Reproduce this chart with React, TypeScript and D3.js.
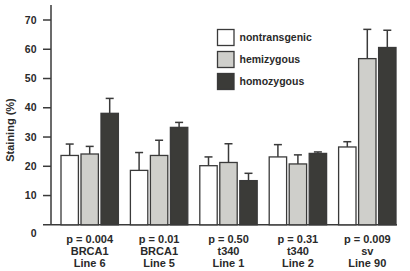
import React from "react";
import * as d3 from "d3";

const categories = ["BRCA1|Line 6", "BRCA1|Line 5", "t340|Line 1", "t340|Line 2", "sv|Line 90"];
const pValues = ["p = 0.004", "p = 0.01", "p = 0.50", "p = 0.31", "p = 0.009"];
const seriesNames = ["nontransgenic", "hemizygous", "homozygous"];
const nontransgenic = [23.7, 18.6, 20.2, 23.2, 26.6];
const nontransgenicErr = [27.6, 24.7, 23.2, 27.4, 28.4];
const hemizygous = [24.2, 23.7, 21.3, 20.8, 56.8];
const hemizygousErr = [26.8, 28.9, 27.7, 23.9, 66.8];
const homozygous = [38.1, 33.3, 15.1, 24.4, 60.6];
const homozygousErr = [43.2, 35.0, 17.6, 24.9, 66.5];
const yTicks = [10, 20, 30, 40, 50, 60, 70];

const colors = ["#ffffff", "#cfcfcb", "#3b3b38"];
const stroke = "#3a3a3a";
const font = "'Liberation Sans', Arial, Helvetica, sans-serif";

export default function App() {
  const W = 410, H = 271;
  const axisX = 51, baseY = 224.8;
  const y = d3.scaleLinear().domain([0, 70]).range([baseY, 20]);
  const x0 = d3.scaleBand<string>().domain(categories).range([61, 396]).paddingInner(0.173).paddingOuter(0);
  const x1 = d3.scaleBand<string>().domain(seriesNames).range([0, x0.bandwidth()]).paddingInner(0.13).paddingOuter(0);
  const vals = [nontransgenic, hemizygous, homozygous];
  const errs = [nontransgenicErr, hemizygousErr, homozygousErr];

  return (
    <svg width={W} height={H} style={{ position: "absolute", left: 0, top: 0 }} fontFamily={font} fontWeight="bold">
      <rect width={W} height={H} fill="#fff" />
      {/* y axis */}
      <line x1={axisX} x2={axisX} y1={5} y2={baseY} stroke={stroke} strokeWidth={1.5} />
      <line x1={43} x2={397} y1={baseY} y2={baseY} stroke={stroke} strokeWidth={1.5} />
      {yTicks.map((t) => (
        <g key={t}>
          <line x1={43} x2={axisX} y1={y(t)} y2={y(t)} stroke={stroke} strokeWidth={1.5} />
          <text x={36.5} y={y(t)} dy="0.35em" textAnchor="end" fontSize={10.5} fill="#2a2a2a">{t}</text>
        </g>
      ))}
      <text x={36.5} y={y(0) + 8.5} dy="0.35em" textAnchor="end" fontSize={10.5} fill="#2a2a2a">0</text>
      <text transform={`translate(${10},${130}) rotate(-90)`} textAnchor="middle" dy="0.35em" fontSize={11} fill="#2a2a2a">Staining (%)</text>

      {categories.map((c, i) => (
        <g key={c} transform={`translate(${x0(c)},0)`}>
          {seriesNames.map((s, k) => {
            const bx = x1(s)!;
            const bw = x1.bandwidth();
            const cx = bx + bw / 2;
            return (
              <g key={s}>
                <line x1={cx} x2={cx} y1={y(vals[k][i])} y2={y(errs[k][i])} stroke={stroke} strokeWidth={1.5} />
                <line x1={cx - 4} x2={cx + 4} y1={y(errs[k][i])} y2={y(errs[k][i])} stroke={stroke} strokeWidth={1.5} />
                <rect x={bx} y={y(vals[k][i])} width={bw} height={baseY - y(vals[k][i])} fill={colors[k]} stroke={stroke} strokeWidth={1.3} />
              </g>
            );
          })}
          {[pValues[i], ...c.split("|")].map((t, j) => (
            <text key={j} x={x0.bandwidth() / 2} y={239 + j * 12.2} dy="0.35em" textAnchor="middle" fontSize={11} fill="#2a2a2a">{t}</text>
          ))}
        </g>
      ))}

      {seriesNames.map((s, k) => (
        <g key={s} transform={`translate(217.5,${29.5 + k * 22})`}>
          <rect width={16.5} height={16} fill={colors[k]} stroke={stroke} strokeWidth={1.3} />
          <text x={22} y={8} dy="0.35em" fontSize={10.5} fill="#2a2a2a">{s}</text>
        </g>
      ))}
    </svg>
  );
}
